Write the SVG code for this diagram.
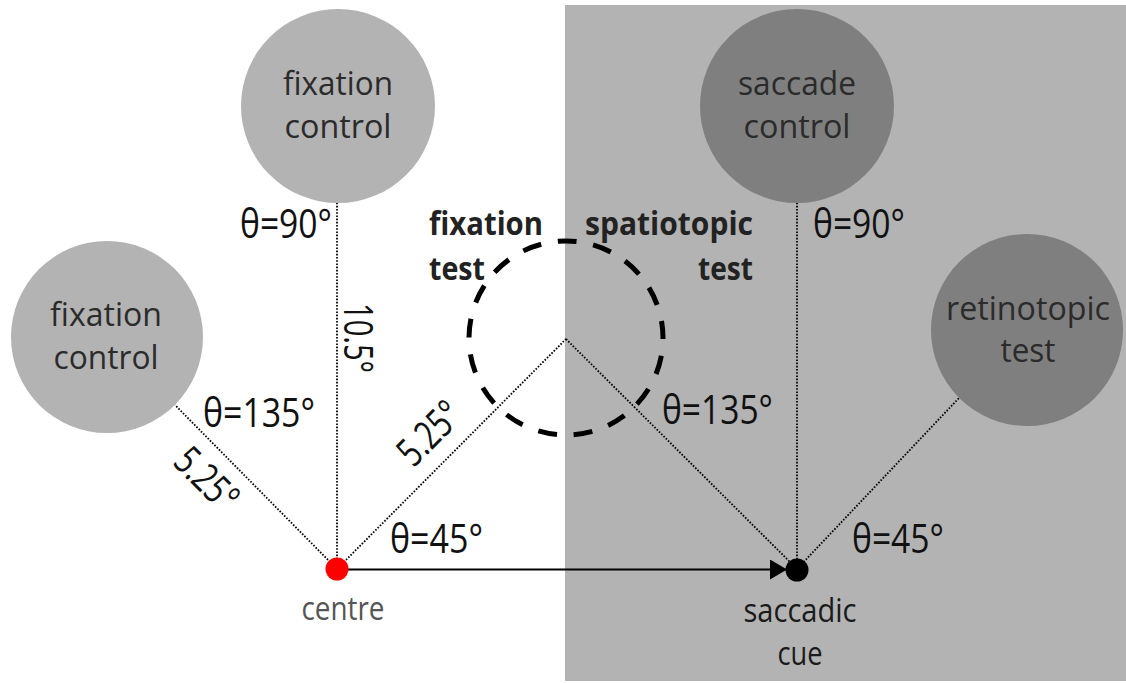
<svg xmlns="http://www.w3.org/2000/svg" width="1126" height="683" viewBox="0 0 1126 683">
  <style>
    .lbl { font-family: "Open Sans", "Liberation Sans", sans-serif; font-size: 33px; fill: #2b2b2b; text-anchor: middle; }
    .bold { font-family: "Open Sans", "Liberation Sans", sans-serif; font-size: 33px; font-weight: bold; fill: #222; }
    .ang { font-family: "Open Sans", "Liberation Sans", sans-serif; font-size: 41px; fill: #111; }
    .dist { font-family: "Open Sans", "Liberation Sans", sans-serif; font-size: 40px; fill: #111; text-anchor: middle; }
    .light { fill: #b3b3b3; }
    .dark { fill: #7f7f7f; }
    .dot { stroke: #000; stroke-width: 1.8; stroke-dasharray: 1.6 1.6; fill: none; }
  </style>
  <defs>
    <marker id="arrow" markerUnits="userSpaceOnUse" markerWidth="18" markerHeight="20" refX="17" refY="10" orient="auto">
      <path d="M0,0 L17,10 L0,20 Z" fill="#000"/>
    </marker>
  </defs>

  <!-- shaded saccade half -->
  <rect id="saccade-field" x="565" y="5" width="561" height="676" fill="#b3b3b3"/>

  <g id="fixation-control-top">
    <circle class="light" cx="338" cy="106" r="97"/>
    <text class="lbl" x="338" y="95" textLength="110" lengthAdjust="spacingAndGlyphs">fixation</text>
    <text class="lbl" x="338" y="138" textLength="107" lengthAdjust="spacingAndGlyphs">control</text>
  </g>

  <g id="fixation-control-left">
    <circle class="light" cx="107" cy="337" r="96"/>
    <text class="lbl" x="106" y="326" textLength="112" lengthAdjust="spacingAndGlyphs">fixation</text>
    <text class="lbl" x="106" y="369" textLength="105" lengthAdjust="spacingAndGlyphs">control</text>
  </g>

  <g id="saccade-control">
    <circle class="dark" cx="797" cy="106" r="97"/>
    <text class="lbl" x="797" y="95" textLength="118" lengthAdjust="spacingAndGlyphs">saccade</text>
    <text class="lbl" x="797" y="138" textLength="107" lengthAdjust="spacingAndGlyphs">control</text>
  </g>

  <g id="retinotopic-test">
    <circle class="dark" cx="1027" cy="330" r="96"/>
    <text class="lbl" x="1028" y="320" textLength="164" lengthAdjust="spacingAndGlyphs">retinotopic</text>
    <text class="lbl" x="1028" y="362" textLength="55" lengthAdjust="spacingAndGlyphs">test</text>
  </g>

  <g id="connectors">
    <line class="dot" x1="337" y1="569" x2="337" y2="203"/>
    <line class="dot" x1="337" y1="569" x2="175" y2="405"/>
    <line class="dot" x1="337" y1="569" x2="566" y2="339"/>
    <line class="dot" x1="566" y1="339" x2="797" y2="569"/>
    <line class="dot" x1="797" y1="569" x2="797" y2="203"/>
    <line class="dot" x1="797" y1="569" x2="959" y2="398"/>
    <line x1="348" y1="569.5" x2="787" y2="569.5" stroke="#000" stroke-width="2" marker-end="url(#arrow)"/>
  </g>

  <g id="test-location">
    <circle cx="566" cy="338" r="97" fill="none" stroke="#000" stroke-width="5" stroke-dasharray="19 16.85" stroke-dashoffset="18"/>
    <text class="bold" x="429" y="235" textLength="114" lengthAdjust="spacingAndGlyphs">fixation</text>
    <text class="bold" x="429" y="280" textLength="56" lengthAdjust="spacingAndGlyphs">test</text>
    <text class="bold" x="753" y="235" text-anchor="end" textLength="168" lengthAdjust="spacingAndGlyphs">spatiotopic</text>
    <text class="bold" x="753" y="280" text-anchor="end" textLength="55" lengthAdjust="spacingAndGlyphs">test</text>
  </g>

  <g id="centre">
    <circle cx="337" cy="569" r="11.5" fill="#ff0000"/>
    <text class="lbl" x="343" y="620" style="fill:#555" textLength="83" lengthAdjust="spacingAndGlyphs">centre</text>
  </g>

  <g id="saccadic-cue">
    <circle cx="797" cy="570" r="11.5" fill="#000"/>
    <text class="lbl" x="800" y="622" style="fill:#1a1a1a" textLength="113" lengthAdjust="spacingAndGlyphs">saccadic</text>
    <text class="lbl" x="800" y="665" style="fill:#1a1a1a" textLength="45" lengthAdjust="spacingAndGlyphs">cue</text>
  </g>

  <g id="angle-labels">
    <text class="ang" x="240" y="238" textLength="92" lengthAdjust="spacingAndGlyphs">θ=90°</text>
    <text class="ang" x="813" y="238" textLength="92" lengthAdjust="spacingAndGlyphs">θ=90°</text>
    <text class="ang" x="203" y="427" textLength="112" lengthAdjust="spacingAndGlyphs">θ=135°</text>
    <text class="ang" x="662" y="424" textLength="111" lengthAdjust="spacingAndGlyphs">θ=135°</text>
    <text class="ang" x="390" y="553" textLength="93" lengthAdjust="spacingAndGlyphs">θ=45°</text>
    <text class="ang" x="852" y="553" textLength="92" lengthAdjust="spacingAndGlyphs">θ=45°</text>
  </g>

  <g id="distance-labels">
    <text class="dist" transform="translate(344 338) rotate(90)" textLength="70" lengthAdjust="spacingAndGlyphs">10.5°</text>
    <text class="dist" transform="translate(197 489) rotate(45)" textLength="72" lengthAdjust="spacingAndGlyphs">5.25°</text>
    <text class="dist" transform="translate(439 443) rotate(-45)" textLength="72" lengthAdjust="spacingAndGlyphs">5.25°</text>
  </g>
</svg>
